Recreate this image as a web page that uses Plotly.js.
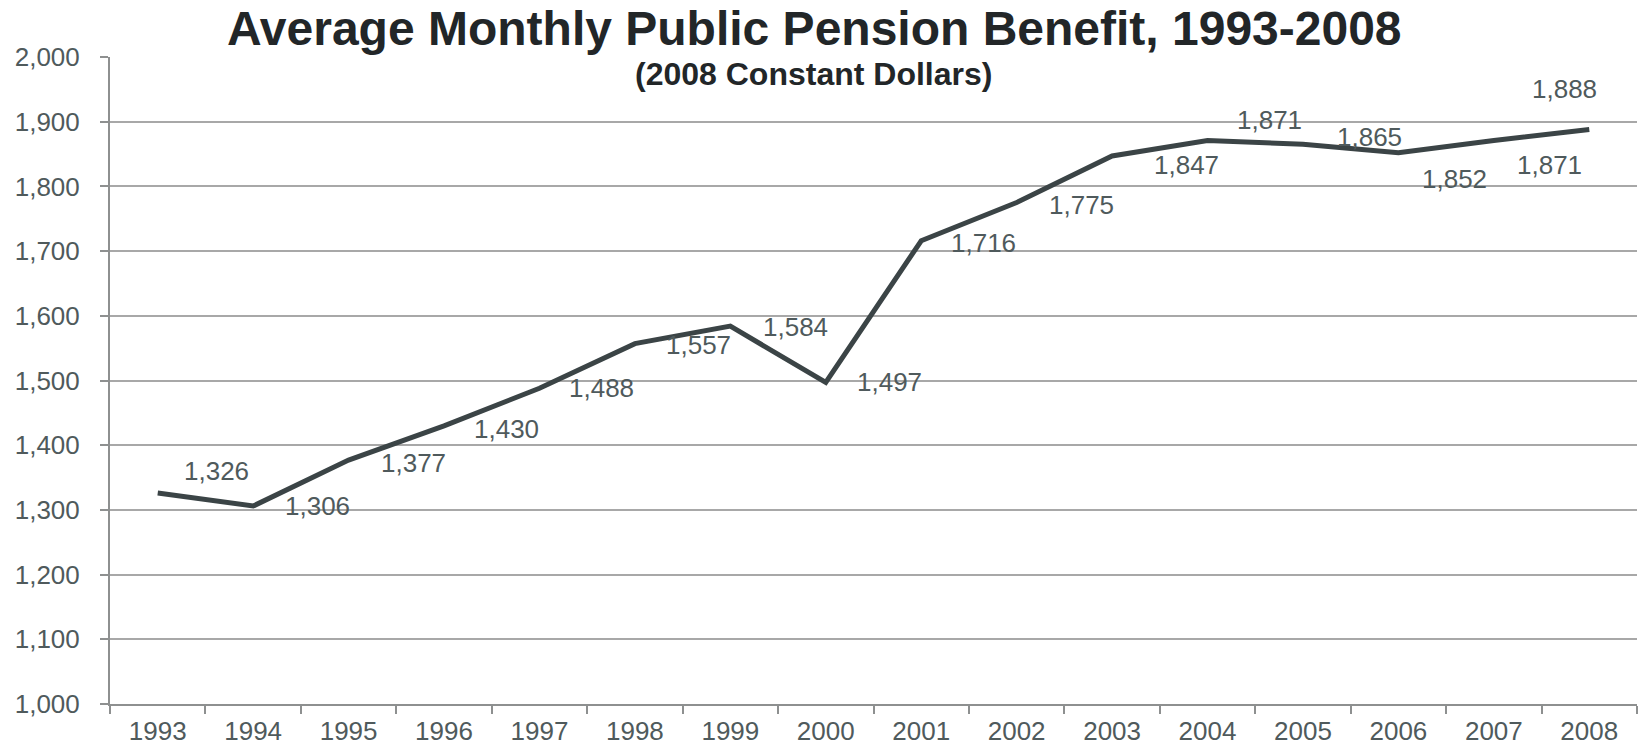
<!DOCTYPE html>
<html>
<head>
<meta charset="utf-8">
<script src="https://cdn.plot.ly/plotly-3.0.1.min.js"></script>
<style>html,body{margin:0;padding:0;background:#fff;}#chart{width:1640px;height:749px;}</style>
</head>
<body>
<div id="chart"></div>
<script>
const years = ['1993','1994','1995','1996','1997','1998','1999','2000','2001','2002','2003','2004','2005','2006','2007','2008'];
const benefit = [1326,1306,1377,1430,1488,1557,1584,1497,1716,1775,1847,1871,1865,1852,1871,1888];
const yTicks = [1000,1100,1200,1300,1400,1500,1600,1700,1800,1900,2000];

// label placement (screen px offsets from each point; dy positive = down)
const labelDx = [59,64,65,62,62,64,65,64,62,65,74,62,67,56,56,-25];
const labelDy = [-22,0,3,3,0,1,1,0,2,2,9,-20,-7,26,25,-40];

const textColor = '#4f5a5c';
const fontFam = '"Liberation Sans", Arial, sans-serif';

// on a category axis, category i sits at index i
const annotations = years.map((yr, i) => ({
  x: i, y: benefit[i], xref: 'x', yref: 'y',
  text: benefit[i].toLocaleString('en-US'),
  showarrow: false, xanchor: 'center', yanchor: 'middle',
  xshift: labelDx[i], yshift: -labelDy[i],
  font: {family: fontFam, size: 26, color: textColor}
}));
annotations.push({
  text: '<b>(2008 Constant Dollars)</b>', xref: 'paper', yref: 'paper',
  x: 0.461, y: 0.974, xanchor: 'center', yanchor: 'middle', showarrow: false,
  font: {family: fontFam, size: 32, color: '#222628'}
});

const trace = {
  x: years, y: benefit, type: 'scatter', mode: 'lines',
  line: {color: '#3b4446', width: 5}, hoverinfo: 'skip'
};

const layout = {
  width: 1640, height: 749,
  margin: {l: 110, r: 3, t: 57, b: 45},
  paper_bgcolor: '#fff', plot_bgcolor: '#fff',
  showlegend: false,
  title: {
    text: '<b>Average Monthly Public Pension Benefit, 1993-2008</b>',
    xref: 'container', yref: 'container', x: 0.4965, xanchor: 'center',
    y: 0.963, yanchor: 'middle',
    font: {family: fontFam, size: 48, color: '#222628'}
  },
  xaxis: {
    type: 'category', categoryarray: years, range: [-0.5, years.length - 0.5],
    tickson: 'boundaries', ticks: 'outside', ticklen: 8,
    tickwidth: 2, tickcolor: '#8e9090', tickangle: 0,
    showline: true, linecolor: '#8e9090', linewidth: 2,
    showgrid: false, zeroline: false, fixedrange: true,
    tickfont: {family: fontFam, size: 26, color: textColor},
    ticklabelstandoff: 3
  },
  yaxis: {
    range: [1000, 2000], tickvals: yTicks, tickformat: ',',
    ticks: 'outside', ticklen: 8, tickwidth: 2, tickcolor: '#8e9090',
    showline: true, linecolor: '#8e9090', linewidth: 2,
    showgrid: true, gridcolor: '#a8a8a8', gridwidth: 2, zeroline: false,
    tickfont: {family: fontFam, size: 26, color: textColor},
    ticklabelstandoff: 15, fixedrange: true
  },
  annotations: annotations
};

Plotly.newPlot('chart', [trace], layout, {displayModeBar: false, staticPlot: true});
</script>
</body>
</html>
